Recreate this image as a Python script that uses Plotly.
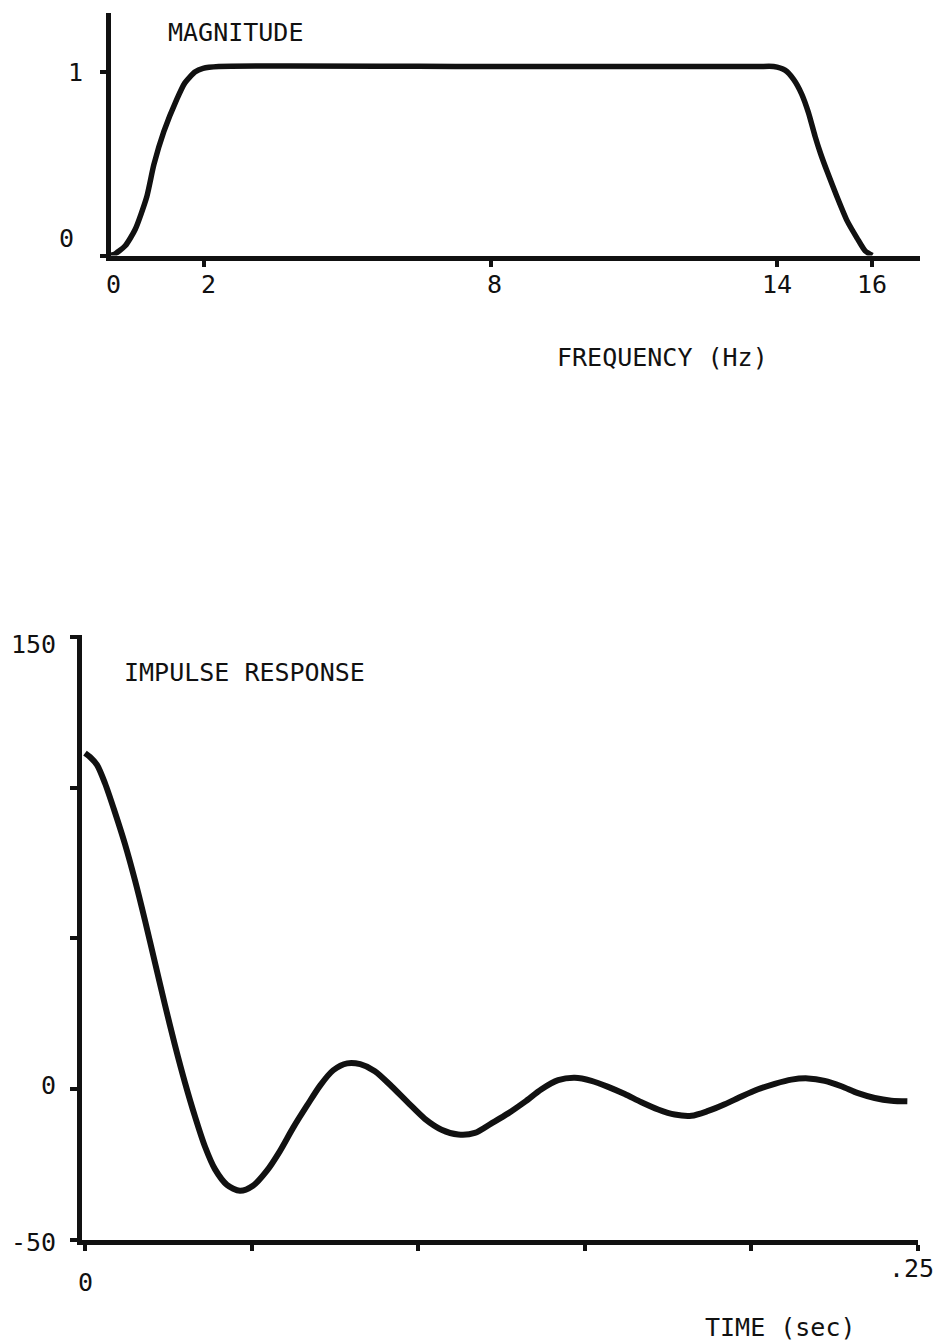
import plotly.graph_objects as go

# Band-pass magnitude response
freq_hz = [0, 0.1, 0.34, 0.55, 0.79, 0.94, 1.15, 1.42, 1.59, 1.8, 1.97, 2.3,
           8, 13.6, 13.93, 14.17, 14.35, 14.52, 14.66, 14.8, 14.91, 15.05,
           15.26, 15.47, 15.68, 15.85, 16.0]
magnitude = [0, 0.005, 0.053, 0.143, 0.319, 0.495, 0.676, 0.851, 0.941, 1.0,
             1.02, 1.03, 1.03, 1.03, 1.03, 1.01, 0.96, 0.88, 0.78, 0.65, 0.56,
             0.46, 0.32, 0.19, 0.095, 0.025, 0]
freq_ticks = [0, 2, 8, 14, 16]
freq_tick_text = ["0", "2", "8", "14", "16"]
mag_ticks = [0, 1]

# Impulse response of the filter
time_s = [0, 0.0015, 0.0036, 0.006, 0.009, 0.012, 0.015, 0.018, 0.021, 0.024,
          0.027, 0.030, 0.033, 0.036, 0.039, 0.0426, 0.0465, 0.0504, 0.0546,
          0.0585, 0.0624, 0.0667, 0.0706, 0.0745, 0.0787, 0.0826, 0.087,
          0.092, 0.097, 0.102, 0.107, 0.112, 0.117, 0.122, 0.127, 0.132,
          0.137, 0.142, 0.147, 0.152, 0.157, 0.162, 0.167, 0.172, 0.177,
          0.182, 0.187, 0.192, 0.197, 0.202, 0.207, 0.212, 0.217, 0.222,
          0.227, 0.232, 0.237, 0.242, 0.2468]
impulse = [111.5, 110.2, 107.6, 101.5, 91.8, 81.3, 69.3, 56, 42, 28,
           14.6, 2.2, -9, -19, -26.5, -31.7, -33.7, -32, -27, -20.5, -12.9,
           -5.3, 1.3, 6.3, 8.6, 8.3, 6.0, 1.0, -4.5, -9.8, -13.4, -15.0,
           -14.5, -11.3, -8.0, -4.2, 0, 3.0, 3.8, 2.8, 0.8, -1.6, -4.3, -6.7,
           -8.4, -8.8, -7.2, -5.0, -2.4, 0, 1.8, 3.2, 3.6, 2.8, 1.0, -1.3,
           -2.9, -3.8, -4.0]
time_ticks = [0, 0.05, 0.10, 0.15, 0.20, 0.25]
impulse_ticks = [-50, 0, 50, 100, 150]

W, H = 937, 1344
FONT = "DejaVu Sans Mono"
INK = "#111111"

fig = go.Figure()
fig.add_trace(go.Scatter(x=freq_hz, y=magnitude, mode="lines",
                         line=dict(color=INK, width=5.5, shape="spline", smoothing=0.6),
                         xaxis="x", yaxis="y", hoverinfo="skip", cliponaxis=False))
fig.add_trace(go.Scatter(x=time_s, y=impulse, mode="lines",
                         line=dict(color=INK, width=6, shape="spline", smoothing=0.8),
                         xaxis="x2", yaxis="y2", hoverinfo="skip"))

axis_common = dict(showline=True, linewidth=5, linecolor=INK, showgrid=False,
                   zeroline=False, ticks="outside", tickcolor=INK, tickwidth=4,
                   showticklabels=False, fixedrange=True)

fig.update_layout(
    width=W, height=H,
    margin=dict(l=0, r=0, t=0, b=0),
    paper_bgcolor="white", plot_bgcolor="white",
    showlegend=False,
    xaxis=dict(domain=[110.5 / W, 920 / W], range=[0.031, 17.0],
               tickvals=freq_ticks, ticklen=6, anchor="y", **axis_common),
    yaxis=dict(domain=[1 - 255.5 / H, 1 - 13 / H], range=[0, 1.3215],
               tickvals=mag_ticks, ticklen=6, anchor="x", **axis_common),
    xaxis2=dict(domain=[82 / W, 918 / W], range=[-0.0009, 0.25],
                tickvals=time_ticks, ticklen=6, anchor="y2", **axis_common),
    yaxis2=dict(domain=[1 - 1240 / H, 1 - 635 / H], range=[-50, 150.66],
                tickvals=impulse_ticks, ticklen=7, anchor="x2", **axis_common),
)

ann = []
label_font = dict(family=FONT, size=25, color=INK)

# Frequency axis tick labels (the "0" sits at the axis corner, just left of the range)
for v, txt in zip(freq_ticks, freq_tick_text):
    if v == 0:
        ann.append(dict(x=113 / W, y=1 - 284 / H, xref="paper", yref="paper", text=txt,
                        showarrow=False, font=label_font, xanchor="center", yanchor="middle"))
    else:
        ann.append(dict(x=v, y=1 - 284 / H, xref="x", yref="paper", text=txt,
                        showarrow=False, font=label_font, xanchor="center", yanchor="middle",
                        xshift=4 if v in (2, 8) else 0))
# Magnitude axis tick labels
ann.append(dict(x=85 / W, y=1, xref="paper", yref="y", text="1", showarrow=False,
                font=label_font, xanchor="right", yanchor="middle"))
ann.append(dict(x=76 / W, y=0, xref="paper", yref="y", text="0", showarrow=False,
                font=label_font, xanchor="right", yanchor="middle", yshift=17))
# Time axis tick labels
ann.append(dict(x=0, y=1 - 1282 / H, xref="x2", yref="paper", text="0", showarrow=False,
                font=label_font, xanchor="center", yanchor="middle"))
ann.append(dict(x=936 / W, y=1 - 1268 / H, xref="paper", yref="paper", text=".25",
                showarrow=False, font=label_font, xanchor="right", yanchor="middle"))
# Impulse axis tick labels
for v, txt, shift in [(150, "150", -8), (0, "0", 4), (-50, "-50", -2)]:
    ann.append(dict(x=58 / W, y=v, xref="paper", yref="y2", text=txt, showarrow=False,
                    font=label_font, xanchor="right", yanchor="middle", yshift=shift))

# Titles
ann.append(dict(x=235 / W, y=1 - 33 / H, xref="paper", yref="paper", text="MAGNITUDE",
                showarrow=False, font=label_font, xanchor="center", yanchor="middle"))
ann.append(dict(x=662 / W, y=1 - 357 / H, xref="paper", yref="paper", text="FREQUENCY (Hz)",
                showarrow=False, font=label_font, xanchor="center", yanchor="middle"))
ann.append(dict(x=244 / W, y=1 - 672 / H, xref="paper", yref="paper", text="IMPULSE RESPONSE",
                showarrow=False, font=label_font, xanchor="center", yanchor="middle"))
ann.append(dict(x=780 / W, y=1 - 1327 / H, xref="paper", yref="paper", text="TIME (sec)",
                showarrow=False, font=label_font, xanchor="center", yanchor="middle"))

fig.update_layout(annotations=ann)
fig.write_html("out.html")
